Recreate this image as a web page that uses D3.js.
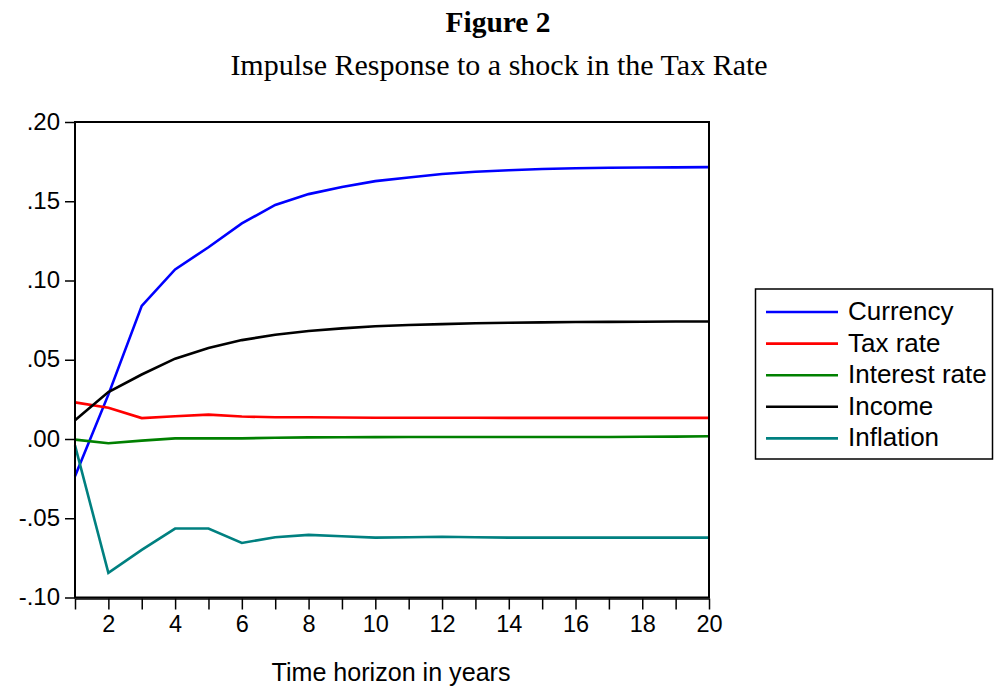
<!DOCTYPE html>
<html>
<head>
<meta charset="utf-8">
<script src="https://cdn.jsdelivr.net/npm/d3@7"></script>
<style>
  html, body { margin: 0; padding: 0; background: #fff; }
  svg { display: block; }
</style>
</head>
<body>
<svg id="chart" width="996" height="688"></svg>
<script>
// ---- data ----
const years = [1,2,3,4,5,6,7,8,9,10,11,12,13,14,15,16,17,18,19,20];
const currency  = [-0.0235, 0.028, 0.084, 0.107, 0.121, 0.136, 0.1477, 0.1545, 0.159, 0.1627, 0.165, 0.1672, 0.1686, 0.1696, 0.1703, 0.1708, 0.1711, 0.1713, 0.1714, 0.1715];
const taxRate   = [0.0231, 0.0197, 0.0132, 0.0144, 0.0154, 0.0142, 0.0137, 0.0137, 0.0136, 0.0134, 0.0134, 0.0134, 0.0134, 0.0133, 0.0133, 0.0133, 0.0133, 0.0133, 0.0133, 0.0133];
const interest  = [-0.0004, -0.0027, -0.001, 0.0004, 0.0004, 0.0004, 0.0008, 0.001, 0.0011, 0.0012, 0.0013, 0.0013, 0.0013, 0.0013, 0.0013, 0.0013, 0.0013, 0.0014, 0.0015, 0.0017];
const income    = [0.0118, 0.0296, 0.0407, 0.0507, 0.0574, 0.0624, 0.0658, 0.0681, 0.0698, 0.0711, 0.0719, 0.0725, 0.073, 0.0733, 0.0736, 0.0738, 0.0739, 0.074, 0.0741, 0.0741];
const inflation = [-0.004, -0.0845, -0.07, -0.0565, -0.0565, -0.0656, -0.062, -0.0605, -0.0614, -0.0622, -0.062, -0.0617, -0.062, -0.0622, -0.0622, -0.0622, -0.0622, -0.0622, -0.0622, -0.0622];
const seriesNames  = ["Currency", "Tax rate", "Interest rate", "Income", "Inflation"];
const seriesColors = ["#0000ff", "#ff0000", "#008000", "#000000", "#008080"];
const yTicks = [-0.10, -0.05, 0.00, 0.05, 0.10, 0.15, 0.20];
const yTickLabels = ["-.10", "-.05", ".00", ".05", ".10", ".15", ".20"];
const xLabelTicks = [2,4,6,8,10,12,14,16,18,20];

const seriesValues = [currency, taxRate, interest, income, inflation];

// ---- layout ----
const svg = d3.select("#chart");
const L = 75, R = 709, T = 122, B = 597.5;

const x = d3.scaleLinear().domain([1, 20]).range([L, R]);
const y = d3.scaleLinear().domain([-0.10, 0.20]).range([B, T]);

// titles
svg.append("text")
  .attr("x", 498).attr("y", 32)
  .attr("text-anchor", "middle")
  .attr("font-family", "'Liberation Serif', 'Times New Roman', serif")
  .attr("font-weight", "bold")
  .attr("font-size", 29.5)
  .text("Figure 2");
svg.append("text")
  .attr("x", 499).attr("y", 75)
  .attr("text-anchor", "middle")
  .attr("font-family", "'Liberation Serif', 'Times New Roman', serif")
  .attr("font-size", 30)
  .text("Impulse Response to a shock in the Tax Rate");

const sans = "'Liberation Sans', Arial, sans-serif";

// lines
const line = d3.line().x((d, i) => x(years[i])).y(d => y(d));
svg.append("g").selectAll("path")
  .data(seriesValues)
  .join("path")
  .attr("d", d => line(d))
  .attr("fill", "none")
  .attr("stroke", (d, i) => seriesColors[i])
  .attr("stroke-width", 2.6)
  .attr("stroke-linejoin", "miter");

// frame
svg.append("rect")
  .attr("x", L).attr("y", T)
  .attr("width", R - L).attr("height", B - T)
  .attr("fill", "none").attr("stroke", "#000").attr("stroke-width", 2);

// y axis
const yAxis = d3.axisLeft(y)
  .tickValues(yTicks)
  .tickFormat((d, i) => yTickLabels[i])
  .tickSizeInner(10).tickSizeOuter(0).tickPadding(5);
const gy = svg.append("g").attr("transform", `translate(${L},0)`).call(yAxis);
gy.select(".domain").remove();
gy.selectAll("line").attr("stroke", "#000").attr("stroke-width", 1.5);
gy.selectAll("text").attr("font-family", sans).attr("font-size", 24).attr("fill", "#000").attr("dy", "0.3em");

// x axis
const xAxis = d3.axisBottom(x)
  .tickValues(years)
  .tickFormat(d => xLabelTicks.includes(d) ? String(d) : "")
  .tickSizeInner(11).tickSizeOuter(0).tickPadding(6);
const gx = svg.append("g").attr("transform", `translate(0,${B + 1})`).call(xAxis);
gx.select(".domain").attr("stroke", "#000").attr("stroke-width", 1.5);
gx.selectAll("line").attr("stroke", "#000").attr("stroke-width", 1.5);
gx.selectAll("text").attr("font-family", sans).attr("font-size", 23.5).attr("fill", "#000");

// x axis title
svg.append("text")
  .attr("x", 391).attr("y", 681)
  .attr("text-anchor", "middle")
  .attr("font-family", sans)
  .attr("font-size", 26)
  .attr("textLength", 239)
  .attr("lengthAdjust", "spacingAndGlyphs")
  .text("Time horizon in years");

// legend
const lg = svg.append("g");
lg.append("rect")
  .attr("x", 755.5).attr("y", 289)
  .attr("width", 237).attr("height", 170)
  .attr("fill", "#fff").attr("stroke", "#000").attr("stroke-width", 1.5);
const rows = lg.selectAll("g.row")
  .data(seriesNames)
  .join("g")
  .attr("class", "row")
  .attr("transform", (d, i) => `translate(0,${312 + i * 31.6})`);
rows.append("line")
  .attr("x1", 766).attr("x2", 838)
  .attr("y1", 0).attr("y2", 0)
  .attr("stroke", (d, i) => seriesColors[i])
  .attr("stroke-width", 2.6);
rows.append("text")
  .attr("x", 848).attr("y", 8)
  .attr("font-family", sans)
  .attr("font-size", 26)
  .attr("fill", "#000")
  .text(d => d);
</script>
</body>
</html>
